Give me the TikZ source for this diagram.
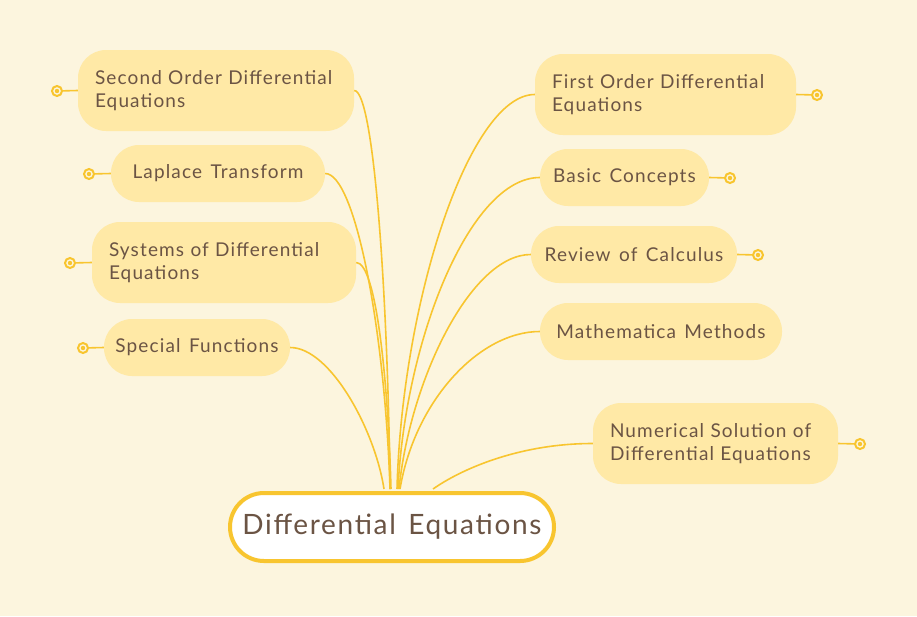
\documentclass[tikz,border=0pt]{standalone}
\usepackage{fontspec}
\setmainfont{Lato}[LetterSpace=6,WordSpace=1.4]
\definecolor{bg}{HTML}{FCF5DE}
\definecolor{nodefill}{HTML}{FFE9A6}
\definecolor{linec}{HTML}{F8C52F}
\definecolor{txt}{HTML}{6B5444}
\begin{document}
\begin{tikzpicture}[x=1pt,y=-1pt,
  child/.style={fill=nodefill, rounded corners=28pt, text=txt, inner xsep=17pt, inner ysep=0pt,
    font=\fontsize{19}{23}\selectfont, align=left, anchor=center},
  single/.style={child, inner xsep=11pt, align=center, minimum height=57pt},
  rootnode/.style={fill=white, draw=linec, line width=4pt, rounded corners=34pt, text=txt,
    font=\fontsize{28}{32}\selectfont, minimum width=324pt, minimum height=68pt},
  conn/.style={draw=linec, line width=1.6pt},
  collapse/.style={circle, draw=linec, line width=2pt, fill=bg, minimum size=10pt, inner sep=0pt,
    path picture={\fill[linec] (path picture bounding box.center) circle (2.2pt);}}
]
\useasboundingbox (0,0) rectangle (917,616);
\fill[bg] (0,0) rectangle (917,616);

% root
\node[rootnode] (root) at (392,527) {Differential Equations};

% left children
\node[child, minimum width=276pt, minimum height=81pt, text width=242pt] (n1) at (216,90.5) {Second Order Differential\\Equations};
\node[single, minimum width=214pt] (n2) at (218,173.5) {Laplace Transform};
\node[child, minimum width=264pt, minimum height=81pt, text width=230pt] (n3) at (224,262.5) {Systems of Differential\\Equations};
\node[single, minimum width=186pt] (n4) at (197,347.5) {Special Functions};

% right children
\node[child, minimum width=261pt, minimum height=81pt, text width=227pt] (m1) at (665.5,94.5) {First Order Differential\\Equations};
\node[single, minimum width=169pt] (m2) at (624.5,177.5) {Basic Concepts};
\node[single, minimum width=206pt] (m3) at (634,254.5) {Review of Calculus};
\node[single, minimum width=242pt] (m4) at (661,331.5) {Mathematica Methods};
\node[child, minimum width=245pt, minimum height=81pt, text width=211pt] (m5) at (715.5,443.5) {Numerical Solution of\\Differential Equations};

% anchor points on root
\coordinate (r1) at (390,489);
\coordinate (r2) at (390,489);
\coordinate (r3) at (391,489);
\coordinate (r4) at (384,489);
\coordinate (s1) at (397,489);
\coordinate (s2) at (398,489);
\coordinate (s3) at (399,489);
\coordinate (s4) at (400,489);
\coordinate (s5) at (433,489);

% connectors
\draw[conn] (n1.east) .. controls +(20,0) and (388,300) .. (r1);
\draw[conn] (n2.east) .. controls +(30,0) and (385,330) .. (r2);
\draw[conn] (n3.east) .. controls +(20,0) and (388,380) .. (r3);
\draw[conn] (n4.east) .. controls +(40,0) and (375,430) .. (r4);
\draw[conn] (m1.west) .. controls +(-65,0) and (402,300) .. (s1);
\draw[conn] (m2.west) .. controls +(-70,0) and (405,340) .. (s2);
\draw[conn] (m3.west) .. controls +(-60,0) and (410,380) .. (s3);
\draw[conn] (m4.west) .. controls +(-60,0) and (415,400) .. (s4);
\draw[conn] (m5.west) .. controls +(-75,0) and (460,470) .. (s5);

% collapse buttons
\node[collapse] (c1) at (57,91) {};
\node[collapse] (c2) at (89,174) {};
\node[collapse] (c3) at (70,263) {};
\node[collapse] (c4) at (83,348) {};
\node[collapse] (d1) at (817,95) {};
\node[collapse] (d2) at (730,178) {};
\node[collapse] (d3) at (758,255) {};
\node[collapse] (d5) at (860,444) {};
\draw[conn] (n1.west) -- (c1);
\draw[conn] (n2.west) -- (c2);
\draw[conn] (n3.west) -- (c3);
\draw[conn] (n4.west) -- (c4);
\draw[conn] (m1.east) -- (d1);
\draw[conn] (m2.east) -- (d2);
\draw[conn] (m3.east) -- (d3);
\draw[conn] (m5.east) -- (d5);
\end{tikzpicture}
\end{document}
